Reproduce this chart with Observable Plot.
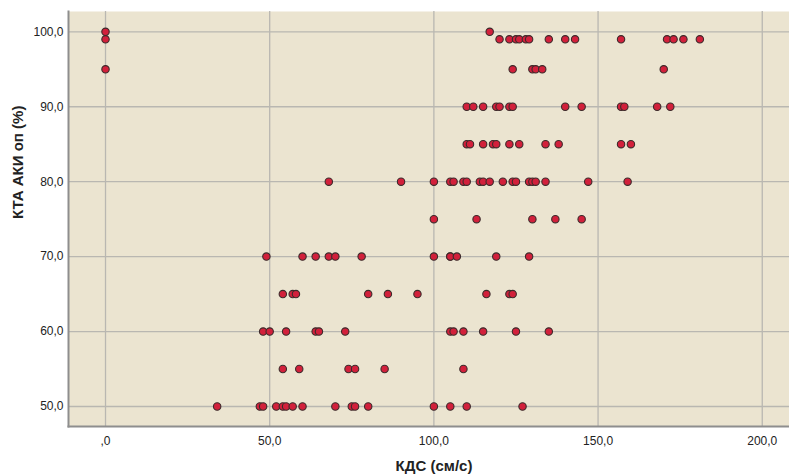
<!DOCTYPE html>
<html>
<head>
<meta charset="utf-8">
<script src="https://cdn.jsdelivr.net/npm/d3@7"></script>
<script src="https://cdn.jsdelivr.net/npm/@observablehq/plot@0.6"></script>
<style>
  body { margin: 0; background: #fff; }
  #chart svg { display: block; }
</style>
</head>
<body>
<div id="chart"></div>
<script>
// КДС (см/с) values observed at each КТА АКИ оп (%) level
const kds100 = [0, 117];
const kds99 = [0, 120, 123, 125, 126, 128, 129, 135, 140, 143, 157, 171, 173, 176, 181];
const kds95 = [0, 124, 130, 131, 133, 170];
const kds90 = [110, 112, 115, 119, 120, 123, 124, 140, 145, 157, 158, 168, 172];
const kds85 = [110, 111, 115, 118, 119, 123, 126, 134, 138, 157, 160];
const kds80 = [68, 90, 100, 105, 106, 109, 110, 114, 115, 117, 121, 124, 125, 129, 130, 131, 134, 147, 159];
const kds75 = [100, 113, 130, 137, 145];
const kds70 = [49, 60, 64, 68, 70, 78, 100, 105, 105, 107, 119, 129];
const kds65 = [54, 57, 58, 80, 86, 95, 116, 123, 124];
const kds60 = [48, 50, 55, 64, 65, 73, 105, 106, 109, 115, 125, 135];
const kds55 = [54, 59, 74, 76, 85, 109];
const kds50 = [34, 47, 48, 52, 54, 55, 57, 60, 70, 75, 76, 80, 100, 105, 110, 127];

const ktaLevels = [100, 99, 95, 90, 85, 80, 75, 70, 65, 60, 55, 50];
const kdsRows = [kds100, kds99, kds95, kds90, kds85, kds80, kds75, kds70, kds65, kds60, kds55, kds50];

const xTicks = [0, 50, 100, 150, 200];
const yTicks = [50, 60, 70, 80, 90, 100];
const xTitle = "КДС (см/с)";
const yTitle = "КТА АКИ оп (%)";

const points = ktaLevels.flatMap((kta, i) => kdsRows[i].map(kds => ({kds, kta})));

// comma decimal separator; zero is written as ",0"
const fmt = d => (d === 0 ? ",0" : d.toFixed(1).replace(".", ","));

const font = "'Liberation Sans', Arial, sans-serif";

const chart = Plot.plot({
  width: 789,
  height: 475,
  marginLeft: 68,
  marginRight: 0,
  marginTop: 11,
  marginBottom: 49,
  style: {fontFamily: font, fontSize: "12px", color: "#222", background: "#fff"},
  x: {domain: [-11.27, 208.3]},
  y: {domain: [47.33, 102.71]},
  marks: [
    Plot.frame({fill: "#ebe4d0", stroke: null}),
    Plot.gridX(xTicks, {stroke: "#b9b7b1", strokeOpacity: 1, strokeWidth: 1.3}),
    Plot.gridY(yTicks, {stroke: "#b9b7b1", strokeOpacity: 1, strokeWidth: 1.3}),
    Plot.frame({anchor: "left", stroke: "#8e8e8e", strokeWidth: 2}),
    Plot.frame({anchor: "bottom", stroke: "#8e8e8e", strokeWidth: 2}),
    Plot.axisX(xTicks, {tickSize: 0, tickPadding: 10, tickFormat: fmt, label: null, fill: "#222"}),
    Plot.axisY(yTicks, {tickSize: 0, tickPadding: 5, tickFormat: fmt, label: null, fill: "#222"}),
    Plot.dot(points, {
      x: "kds", y: "kta", r: 3.7,
      fill: "#d2203b", stroke: "#3b2b2b", strokeWidth: 1.1
    }),
    Plot.text([xTitle], {
      frameAnchor: "bottom", dx: 5, dy: 44,
      fontSize: 15, fontWeight: "bold", fill: "#222"
    }),
    Plot.text([yTitle], {
      frameAnchor: "left", dx: -50, rotate: -90,
      fontSize: 15, fontWeight: "bold", fill: "#222"
    })
  ]
});

document.getElementById("chart").appendChild(chart);
</script>
</body>
</html>
